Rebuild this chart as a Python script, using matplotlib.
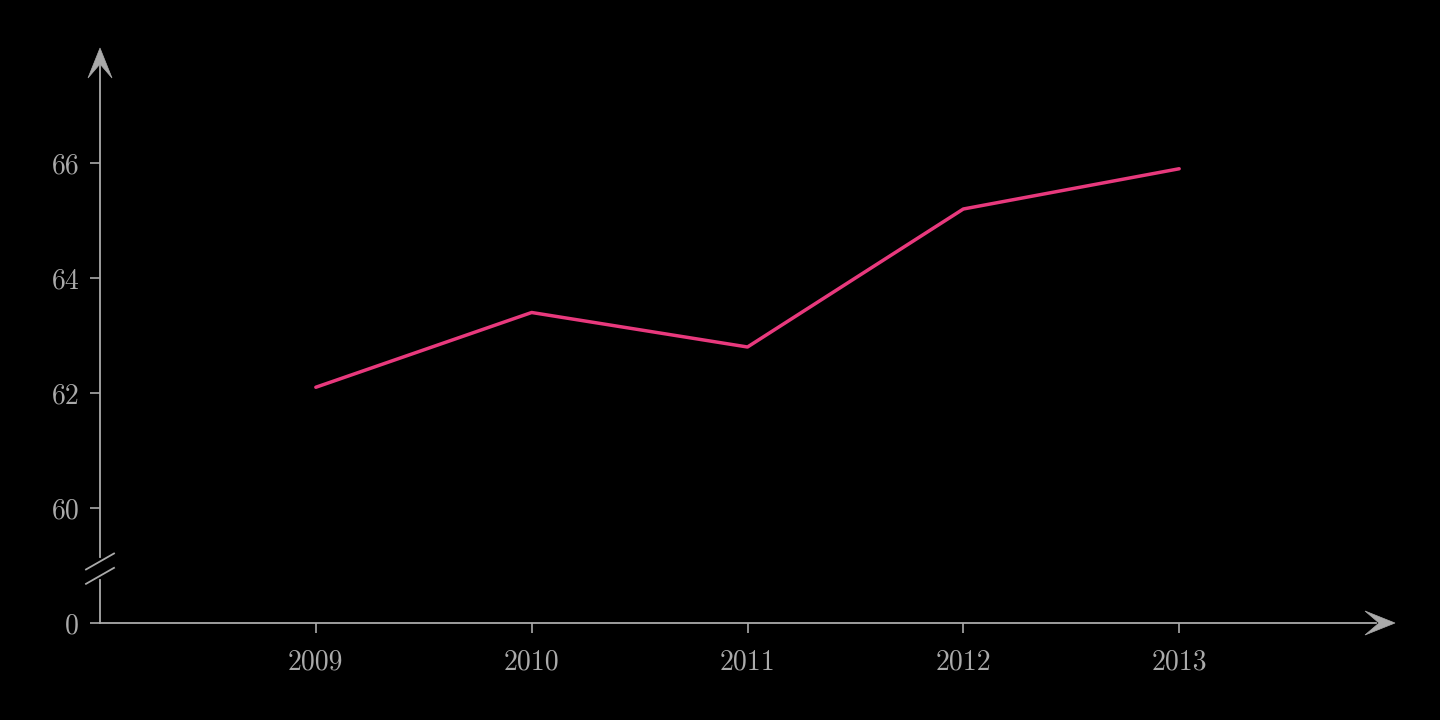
import matplotlib
matplotlib.use("Agg")
import matplotlib.pyplot as plt
from matplotlib.lines import Line2D
from matplotlib.path import Path
from matplotlib.patches import PathPatch
from matplotlib.transforms import offset_copy
import matplotlib.transforms as mtrans

years = [2009, 2010, 2011, 2012, 2013]
values = [62.1, 63.4, 62.8, 65.2, 65.9]
ytick_vals = [60, 62, 64, 66]
ytick_labels = ["60", "62", "64", "66"]

plt.rcParams['font.family'] = ['cmr10', 'DejaVu Serif']
plt.rcParams['axes.formatter.use_mathtext'] = True
gray = '#aaaaaa'

fig = plt.figure(figsize=(14.4, 7.2), dpi=100, facecolor='black')
ax = fig.add_axes([100/1440, 97/720, 1295/1440, 575/720])
ax.set_facecolor('black')
ax.set_xlim(2008, 2014)
ax.set_ylim(58, 68)
for s in ax.spines.values():
    s.set_visible(False)

ax.plot(years, values, color='#e8397d', lw=2.5, solid_capstyle='round')

ax.set_xticks(years)
ax.set_xticklabels([str(y) for y in years])
ax.set_yticks([58] + ytick_vals)
ax.set_yticklabels(["0"] + ytick_labels)
ax.tick_params(colors=gray, labelcolor=gray, labelsize=20, length=7, width=1.2, pad=8)
ax.tick_params(axis='x', pad=12)

lw = 1.3
ax.add_line(Line2D([0, 0.985], [0, 0], transform=ax.transAxes, color=gray, lw=lw, clip_on=False))
ax.add_line(Line2D([0, 0], [0, 0.075], transform=ax.transAxes, color=gray, lw=lw, clip_on=False))
ax.add_line(Line2D([0, 0], [0.115, 0.97], transform=ax.transAxes, color=gray, lw=lw, clip_on=False))

def stealth(xa, ya, angle):
    # pixel-space stealth arrowhead pointing along +x, rotated
    verts = [(0, 0), (-30, 12), (-16, 0), (-30, -12), (0, 0)]
    codes = [Path.MOVETO, Path.LINETO, Path.LINETO, Path.LINETO, Path.CLOSEPOLY]
    tr = (mtrans.Affine2D().rotate_deg(angle).scale(fig.dpi / 100)
          + mtrans.ScaledTranslation(xa, ya, ax.transAxes))
    ax.add_patch(PathPatch(Path(verts, codes), transform=tr, facecolor=gray,
                           edgecolor=gray, lw=0.5, clip_on=False))

stealth(1.0, 0.0, 0)
stealth(0.0, 1.0, 90)

dx = 14/1295
dy = 8/575
for yc in (0.082, 0.107):
    ax.add_line(Line2D([-dx, dx], [yc - dy, yc + dy], transform=ax.transAxes, color=gray, lw=lw, clip_on=False))

fig.savefig('out.png', dpi=100, facecolor='black')
